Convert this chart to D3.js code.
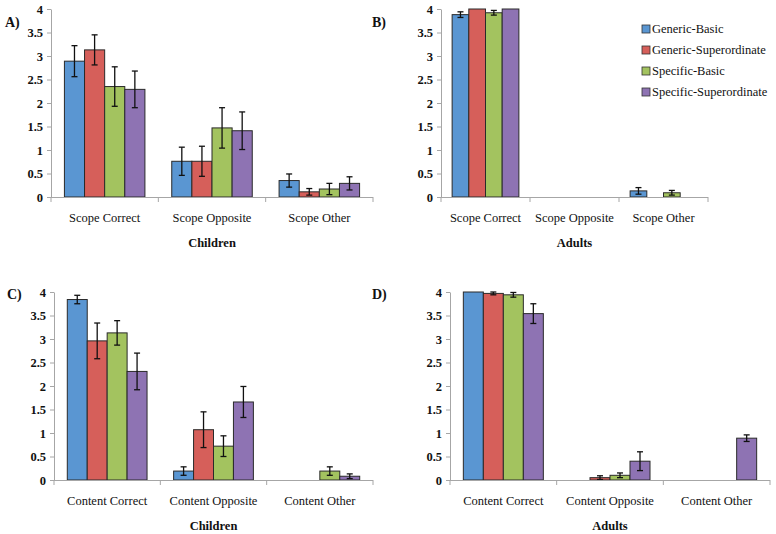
<!DOCTYPE html>
<html>
<head>
<meta charset="utf-8">
<script src="https://cdn.jsdelivr.net/npm/d3@7"></script>
<style>
  body { margin: 0; background: #fff; }
  svg { display: block; }
  svg text { font-family: "Liberation Serif", "Times New Roman", Tinos, "DejaVu Serif", serif; }
</style>
</head>
<body>
<svg id="chart" width="776" height="534"></svg>
<script>
// series (conditions) and their bar colours
const series = ["Generic-Basic", "Generic-Superordinate", "Specific-Basic", "Specific-Superordinate"];
const colors = ["#5a96d2", "#d65f5a", "#a3c35f", "#8e73b3"];

// categories
const scopeCats = ["Scope Correct", "Scope Opposite", "Scope Other"];
const contentCats = ["Content Correct", "Content Opposite", "Content Other"];

// y ticks
const yTicks = [0, 0.5, 1, 1.5, 2, 2.5, 3, 3.5, 4];
const yTickLabels = ["0", "0.5", "1", "1.5", "2", "2.5", "3", "3.5", "4"];

// A) children, scope  (rows = category, cols = series)
const childScope = [[2.89, 3.13, 2.35, 2.29], [0.76, 0.76, 1.47, 1.41], [0.35, 0.11, 0.17, 0.29]];
const childScopeErr = [[0.33, 0.32, 0.42, 0.39], [0.30, 0.32, 0.43, 0.40], [0.14, 0.07, 0.12, 0.14]];

// B) adults, scope
const adultScope = [[3.88, 4.0, 3.92, 4.0], [0, 0, 0, 0], [0.13, 0, 0.09, 0]];
const adultScopeErr = [[0.06, 0, 0.05, 0], [0, 0, 0, 0], [0.07, 0, 0.05, 0]];

// C) children, content
const childContent = [[3.84, 2.96, 3.13, 2.31], [0.19, 1.07, 0.72, 1.66], [0, 0, 0.19, 0.08]];
const childContentErr = [[0.09, 0.38, 0.26, 0.39], [0.09, 0.38, 0.22, 0.33], [0, 0, 0.09, 0.05]];

// D) adults, content
const adultContent = [[4.0, 3.97, 3.94, 3.54], [0, 0.05, 0.10, 0.40], [0, 0, 0, 0.89]];
const adultContentErr = [[0, 0.03, 0.05, 0.21], [0, 0.04, 0.05, 0.20], [0, 0, 0, 0.07]];

const svg = d3.select("#chart");
const axisGray = "#a6a6a6";

// panel layout
const panels = [
  { tag: "A)", title: "Children", cats: scopeCats, vals: childScope, errs: childScopeErr,
    x0: 51, x1: 373, top: 9, bottom: 197, tagX: 5, tagY: 27 },
  { tag: "B)", title: "Adults", cats: scopeCats, vals: adultScope, errs: adultScopeErr,
    x0: 441, x1: 708, top: 9, bottom: 197, tagX: 372, tagY: 27 },
  { tag: "C)", title: "Children", cats: contentCats, vals: childContent, errs: childContentErr,
    x0: 54, x1: 373, top: 292, bottom: 480, tagX: 7, tagY: 299 },
  { tag: "D)", title: "Adults", cats: contentCats, vals: adultContent, errs: adultContentErr,
    x0: 450, x1: 770, top: 292, bottom: 480, tagX: 372, tagY: 299 }
];

panels.forEach(p => {
  const g = svg.append("g");

  const y = d3.scaleLinear().domain([0, 4]).range([p.bottom, p.top]);
  const x = d3.scaleBand().domain(p.cats).range([p.x0, p.x1]).padding(0);
  const xs = d3.scaleBand().domain(series)
      .range([x.bandwidth() * 0.125, x.bandwidth() * 0.875]).padding(0);

  // y axis
  const yAxis = d3.axisLeft(y)
      .tickValues(yTicks)
      .tickFormat((d, i) => yTickLabels[i])
      .tickSize(4)
      .tickSizeOuter(0)
      .tickPadding(4);

  const ya = g.append("g")
      .attr("transform", "translate(" + p.x0 + ",0)")
      .call(yAxis)
      .attr("font-family", null);
  ya.select(".domain").attr("stroke", axisGray);
  ya.selectAll(".tick line").attr("stroke", axisGray);
  ya.selectAll(".tick text")
      .attr("font-size", 12.5)
      .attr("font-weight", "bold")
      .attr("fill", "#111");

  // bars
  p.cats.forEach((c, ci) => {
    const cg = g.append("g").attr("transform", "translate(" + x(c) + ",0)");
    series.forEach((s, si) => {
      const v = p.vals[ci][si];
      if (v <= 0) return;
      cg.append("rect")
        .attr("x", xs(s))
        .attr("y", y(v))
        .attr("width", xs.bandwidth())
        .attr("height", y(0) - y(v))
        .attr("fill", colors[si])
        .attr("stroke", "#2a2a2a")
        .attr("stroke-width", 1);
    });
    // error bars
    series.forEach((s, si) => {
      const v = p.vals[ci][si], e = p.errs[ci][si];
      if (e <= 0) return;
      const cx = xs(s) + xs.bandwidth() / 2;
      const eb = cg.append("g").attr("stroke", "#111").attr("stroke-width", 1.3);
      eb.append("line").attr("x1", cx).attr("x2", cx).attr("y1", y(v - e)).attr("y2", y(v + e));
      eb.append("line").attr("x1", cx - 3).attr("x2", cx + 3).attr("y1", y(v + e)).attr("y2", y(v + e));
      eb.append("line").attr("x1", cx - 3).attr("x2", cx + 3).attr("y1", y(v - e)).attr("y2", y(v - e));
    });
  });

  // x axis line with boundary ticks
  g.append("line")
    .attr("x1", p.x0).attr("x2", p.x1)
    .attr("y1", y(0) + 0.5).attr("y2", y(0) + 0.5)
    .attr("stroke", axisGray);

  const bounds = p.cats.map(c => x(c)).concat([p.x1]);
  g.selectAll(".xtick")
    .data(bounds)
    .enter().append("line")
    .attr("x1", d => d).attr("x2", d => d)
    .attr("y1", y(0)).attr("y2", y(0) + 5)
    .attr("stroke", axisGray);

  // category labels
  g.selectAll(".catlabel")
    .data(p.cats)
    .enter().append("text")
    .attr("x", d => x(d) + x.bandwidth() / 2)
    .attr("y", p.bottom + 25)
    .attr("text-anchor", "middle")
    .attr("font-size", 12.5)
    .attr("fill", "#111")
    .text(d => d);

  // axis title
  g.append("text")
    .attr("x", (p.x0 + p.x1) / 2)
    .attr("y", p.bottom + 50)
    .attr("text-anchor", "middle")
    .attr("font-size", 12.5)
    .attr("font-weight", "bold")
    .attr("fill", "#111")
    .text(p.title);

  // panel tag
  g.append("text")
    .attr("x", p.tagX)
    .attr("y", p.tagY)
    .attr("font-size", 14)
    .attr("font-weight", "bold")
    .attr("fill", "#111")
    .text(p.tag);
});

// legend
const legend = svg.append("g").attr("transform", "translate(642,29)");
series.forEach((s, i) => {
  const row = legend.append("g").attr("transform", "translate(0," + (i * 21) + ")");
  row.append("rect")
    .attr("x", 0).attr("y", -4)
    .attr("width", 8).attr("height", 8)
    .attr("fill", colors[i])
    .attr("stroke", "#333")
    .attr("stroke-width", 0.8);
  row.append("text")
    .attr("x", 10)
    .attr("y", 4)
    .attr("font-size", 12.5)
    .attr("fill", "#111")
    .text(s);
});
</script>
</body>
</html>
